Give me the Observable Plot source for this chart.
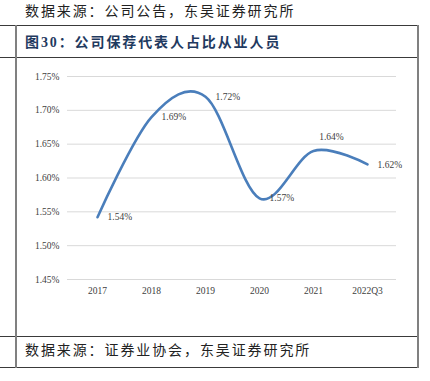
<!DOCTYPE html>
<html>
<head>
<meta charset="utf-8">
<script src="https://cdn.jsdelivr.net/npm/d3@7"></script>
<script src="https://cdn.jsdelivr.net/npm/@observablehq/plot@0.6"></script>
<style>
  html, body { margin: 0; padding: 0; background: #fff; }
  #wrap { position: relative; width: 430px; height: 381px; overflow: hidden; background: #fff; }
  .txt { position: absolute; left: 25px; white-space: nowrap; font-family: "Liberation Serif", "Times New Roman", "Noto Sans CJK SC", serif; font-size: 14px; line-height: 18px; letter-spacing: 1.9px; color: #222; }
  .title { font-weight: bold; color: #1f3a60; }
  .h { position: absolute; left: 0; width: 419px; height: 1px; background: #3a3a3a; }
  .v { position: absolute; top: 25px; height: 343px; width: 2px; background: #808080; }
  #chart { position: absolute; left: 0; top: 57px; }
  #chart svg, #chart svg text { font-family: "Liberation Serif", "Times New Roman", serif !important; }
</style>
</head>
<body>
<div id="wrap">
  <div class="txt" style="top:3px">数据来源：公司公告，东吴证券研究所</div>
  <div class="h" style="top:25px"></div>
  <div class="txt title" style="top:34px">图30：公司保荐代表人占比从业人员</div>
  <div class="h" style="top:57px"></div>
  <div id="chart"></div>
  <div class="h" style="top:336px"></div>
  <div class="txt" style="top:342px">数据来源：证券业协会，东吴证券研究所</div>
  <div class="h" style="top:367px"></div>
  <div class="v" style="left:15px"></div>
  <div class="v" style="left:417px"></div>
</div>
<script>
const categories = ["2017", "2018", "2019", "2020", "2021", "2022Q3"];
const values = [1.542, 1.69, 1.72, 1.57, 1.64, 1.62];
const yTicks = [1.45, 1.50, 1.55, 1.60, 1.65, 1.70, 1.75];

const data = categories.map((c, i) => ({cat: c, v: values[i], i}));
const fmt = d => d.toFixed(2) + "%";

const chart = Plot.plot({
  width: 430,
  height: 278,
  marginTop: 19,
  marginBottom: 56,
  marginLeft: 67,
  marginRight: 34,
  style: {fontFamily: "'Liberation Serif', 'Times New Roman', serif", fontSize: "9.5px", color: "#404040", background: "transparent"},
  x: {type: "point", domain: categories, padding: 0.5, label: null},
  y: {domain: [1.45, 1.75], label: null},
  marks: [
    Plot.gridY(yTicks, {stroke: "#d9d9d9", strokeOpacity: 1, strokeWidth: 1}),
    Plot.axisY({ticks: yTicks, tickFormat: fmt, tickSize: 0, tickPadding: 8, label: null, fill: "#404040"}),
    Plot.axisX({tickSize: 0, tickPadding: 8, label: null, fill: "#404040"}),
    Plot.line(data, {x: "cat", y: "v", curve: "cardinal", stroke: "#4a7ebb", strokeWidth: 2.6}),
    Plot.text(data, {filter: d => d.i !== 4, x: "cat", y: "v", text: d => d.v.toFixed(2) + "%", textAnchor: "start", dx: 10, dy: 0, fill: "#404040", fontSize: 9.5}),
    Plot.text(data, {filter: d => d.i === 4, x: "cat", y: "v", text: d => d.v.toFixed(2) + "%", textAnchor: "middle", dx: 18, dy: -14, fill: "#404040", fontSize: 9.5})
  ]
});
document.getElementById("chart").appendChild(chart);
</script>
</body>
</html>
